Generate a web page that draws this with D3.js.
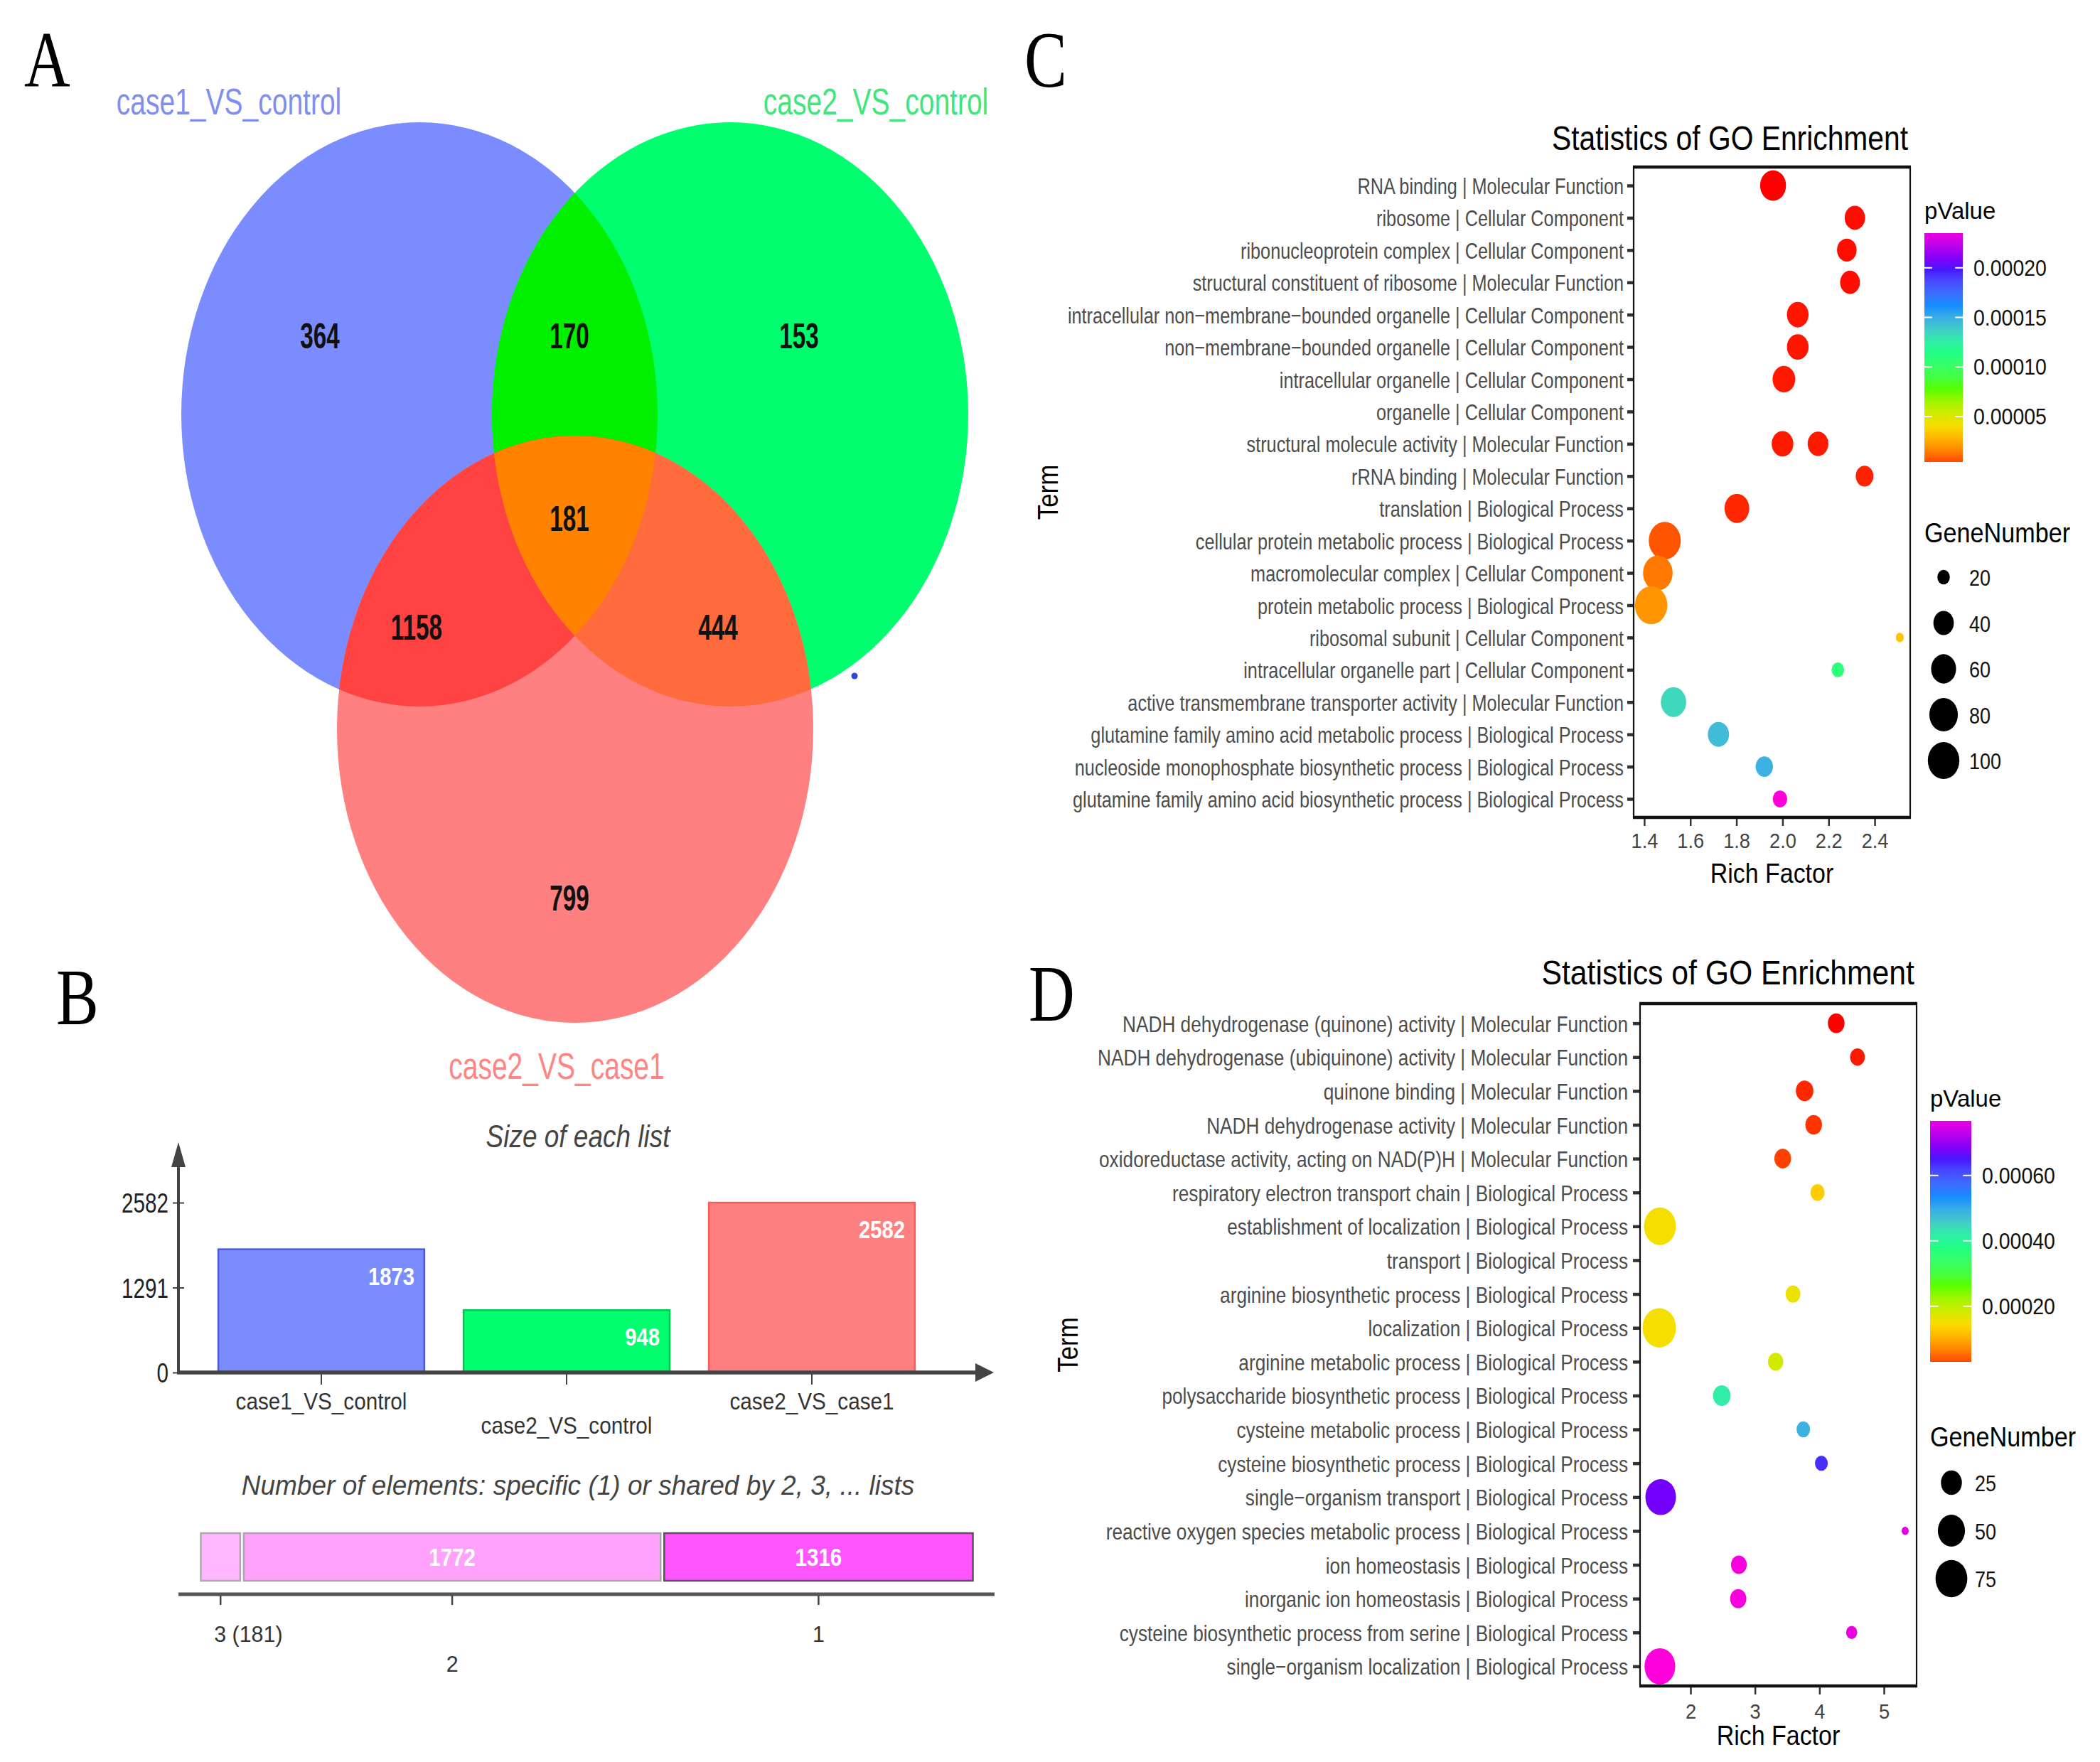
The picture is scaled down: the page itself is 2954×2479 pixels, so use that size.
<!DOCTYPE html>
<html><head><meta charset="utf-8">
<script src="https://cdn.jsdelivr.net/npm/d3@7"></script>
<style>body{margin:0;background:#fff} svg{display:block}</style>
</head><body>
<svg id="fig" width="2954" height="2479"></svg>
<script>
// ================= DATA =================
// Panel A – Venn
const vennSets = ["case1_VS_control", "case2_VS_control", "case2_VS_case1"];
const vennRegions = ["1", "1&2", "2", "1&2&3", "1&3", "2&3", "3"];
const vennCounts = [364, 170, 153, 181, 1158, 444, 799];

// Panel B – list sizes
const listNames = ["case1_VS_control", "case2_VS_control", "case2_VS_case1"];
const listSizes = [1873, 948, 2582];
const sizeTicks = [0, 1291, 2582];
const sharedLabels = ["3 (181)", "2", "1"];
const sharedCounts = [181, 1772, 1316];

// Panel C – GO enrichment
const termsC = [
  "RNA binding | Molecular Function",
  "ribosome | Cellular Component",
  "ribonucleoprotein complex | Cellular Component",
  "structural constituent of ribosome | Molecular Function",
  "intracellular non\u2212membrane\u2212bounded organelle | Cellular Component",
  "non\u2212membrane\u2212bounded organelle | Cellular Component",
  "intracellular organelle | Cellular Component",
  "organelle | Cellular Component",
  "structural molecule activity | Molecular Function",
  "rRNA binding | Molecular Function",
  "translation | Biological Process",
  "cellular protein metabolic process | Biological Process",
  "macromolecular complex | Cellular Component",
  "protein metabolic process | Biological Process",
  "ribosomal subunit | Cellular Component",
  "intracellular organelle part | Cellular Component",
  "active transmembrane transporter activity | Molecular Function",
  "glutamine family amino acid metabolic process | Biological Process",
  "nucleoside monophosphate biosynthetic process | Biological Process",
  "glutamine family amino acid biosynthetic process | Biological Process"
];
const ptTermC = [0, 1, 2, 3, 4, 5, 6, 8, 8, 9, 10, 11, 12, 13, 14, 15, 16, 17, 18, 19];
const richC  = [1.959, 2.314, 2.279, 2.293, 2.066, 2.066, 2.006, 2.000, 2.154, 2.356,
                1.802, 1.489, 1.459, 1.430, 2.509, 2.240, 1.527, 1.722, 1.921, 1.989];
const pC     = [4.1e-6, 4.5e-6, 4.5e-6, 4.5e-6, 4.8e-6, 4.8e-6, 5e-6, 5e-6, 5e-6, 5.5e-6,
                6e-6, 1.17e-5, 1.87e-5, 2.5e-5, 3.7e-5, 1.1e-4, 1.33e-4, 1.43e-4, 1.47e-4, 2.35e-4];
const genesC = [65, 40, 37, 38, 45, 45, 49, 45, 41, 31, 59, 103, 87, 106, 17, 20, 62, 43, 30, 23];
const xTicksC = [1.4, 1.6, 1.8, 2.0, 2.2, 2.4];
const pTicksC = [0.00005, 0.0001, 0.00015, 0.0002];
const sizeLegendC = [20, 40, 60, 80, 100];

// Panel D – GO enrichment
const termsD = [
  "NADH dehydrogenase (quinone) activity | Molecular Function",
  "NADH dehydrogenase (ubiquinone) activity | Molecular Function",
  "quinone binding | Molecular Function",
  "NADH dehydrogenase activity | Molecular Function",
  "oxidoreductase activity, acting on NAD(P)H | Molecular Function",
  "respiratory electron transport chain | Biological Process",
  "establishment of localization | Biological Process",
  "transport | Biological Process",
  "arginine biosynthetic process | Biological Process",
  "localization | Biological Process",
  "arginine metabolic process | Biological Process",
  "polysaccharide biosynthetic process | Biological Process",
  "cysteine metabolic process | Biological Process",
  "cysteine biosynthetic process | Biological Process",
  "single\u2212organism transport | Biological Process",
  "reactive oxygen species metabolic process | Biological Process",
  "ion homeostasis | Biological Process",
  "inorganic ion homeostasis | Biological Process",
  "cysteine biosynthetic process from serine | Biological Process",
  "single\u2212organism localization | Biological Process"
];
const ptTermD = [0, 1, 2, 3, 4, 5, 6, 8, 9, 10, 11, 12, 13, 14, 15, 16, 17, 18, 19];
const richD  = [4.26, 4.59, 3.77, 3.91, 3.43, 3.97, 1.526, 3.59, 1.515, 3.32,
                2.485, 3.75, 4.03, 1.537, 5.33, 2.75, 2.74, 4.50, 1.525];
const pD     = [3.0e-5, 3.3e-5, 3.6e-5, 4.0e-5, 4.5e-5, 1.40e-4, 1.63e-4, 1.72e-4, 1.63e-4, 1.95e-4,
                4.17e-4, 4.85e-4, 6.25e-4, 6.62e-4, 7.43e-4, 7.6e-4, 7.6e-4, 7.48e-4, 7.67e-4];
const genesD = [13, 9, 15, 13, 13, 8, 76, 9, 85, 10, 15, 7, 6, 68, 2, 11, 12, 4, 69];
const xTicksD = [2, 3, 4, 5];
const pTicksD = [0.0002, 0.0004, 0.0006];
const sizeLegendD = [25, 50, 75];

const rainbow7 = ["#FF0000", "#FFDB00", "#49FF00", "#00FF92", "#0092FF", "#4900FF", "#FF00DB"];

// ================= HELPERS =================
const SANS = "'Liberation Sans', Arial, Helvetica, sans-serif";
const SERIF = "'Liberation Serif', 'Times New Roman', serif";
const svg = d3.select("#fig");
svg.append("rect").attr("width", 2954).attr("height", 2479).attr("fill", "#fff");
const defs = svg.append("defs");

function label(g, x, y, str, o = {}) {
  const t = g.append("text")
    .attr("transform", `translate(${x},${y})${o.rotate ? ` rotate(${o.rotate})` : ""} scale(${o.sx ?? 1},1)`)
    .attr("font-family", o.family || SANS)
    .attr("font-size", o.size || 30)
    .attr("text-anchor", o.anchor || "start")
    .attr("fill", o.fill || "#000")
    .text(str);
  if (o.weight) t.attr("font-weight", o.weight);
  if (o.style) t.attr("font-style", o.style);
  return t;
}

// Panel letters
const letters = svg.append("g");
[["A", 34, 122], ["B", 79, 1441], ["C", 1441, 122], ["D", 1447, 1436]].forEach(([s, x, y]) =>
  label(letters, x, y, s, {size: 112, family: SERIF, sx: 0.8}));

// ================= PANEL A: VENN =================
(function venn() {
  const g = svg.append("g");
  const E = [
    {cx: 590, cy: 583, rx: 335, ry: 411},
    {cx: 1027, cy: 583, rx: 335, ry: 411},
    {cx: 809, cy: 1026, rx: 335, ry: 413}
  ];
  const fills = ["#7b8cff", "#00ff6e", "#ff8080"];
  const over = {ab: "#00f000", ac: "#ff4343", bc: "#ff6b3d", abc: "#ff8200"};
  ["vA", "vB"].forEach((id, i) => {
    defs.append("clipPath").attr("id", id).append("ellipse")
      .attr("cx", E[i].cx).attr("cy", E[i].cy).attr("rx", E[i].rx).attr("ry", E[i].ry);
  });
  const ell = (sel, e, f) => sel.append("ellipse").attr("cx", e.cx).attr("cy", e.cy)
    .attr("rx", e.rx).attr("ry", e.ry).attr("fill", f);
  E.forEach((e, i) => ell(g, e, fills[i]));
  const gA = g.append("g").attr("clip-path", "url(#vA)");
  ell(gA, E[1], over.ab);
  ell(gA, E[2], over.ac);
  const gB = g.append("g").attr("clip-path", "url(#vB)");
  ell(gB, E[2], over.bc);
  const gAB = g.append("g").attr("clip-path", "url(#vA)").append("g").attr("clip-path", "url(#vB)");
  ell(gAB, E[2], over.abc);

  const pos = {"1": [450, 473], "1&2": [801, 473], "2": [1124, 473], "1&2&3": [801, 730],
               "1&3": [586, 883], "2&3": [1010, 883], "3": [801, 1264]};
  vennRegions.forEach((r, i) => label(g, pos[r][0], pos[r][1] + 17, vennCounts[i],
    {size: 49, weight: "bold", sx: 0.68, anchor: "middle", fill: "#111"}));

  const setPos = [[322, 161, "#7f8ff0"], [1232, 161, "#3ee67c"], [783, 1518, "#ff8585"]];
  vennSets.forEach((s, i) => label(g, setPos[i][0], setPos[i][1], s,
    {size: 52, sx: 0.75, anchor: "middle", fill: setPos[i][2]}));
  g.append("circle").attr("cx", 1202).attr("cy", 951).attr("r", 4.5).attr("fill", "#3344dd");
})();

// ================= PANEL B: bars =================
(function bars() {
  const g = svg.append("g");
  const axisCol = "#444";
  const x = d3.scaleBand().domain(listNames).range([279.5, 1314.5]).paddingInner(0.16).paddingOuter(0.08);
  const y = d3.scaleLinear().domain([0, 2582]).range([1931, 1692]);
  const barFill = ["#7b8cff", "#00ff6e", "#ff8080"];
  const barStroke = ["#4a5ae0", "#00c850", "#ff5a5a"];

  label(g, 813, 1614, "Size of each list", {size: 44, sx: 0.84, anchor: "middle", style: "italic", fill: "#444"});

  g.selectAll("rect.bar").data(listNames).join("rect").attr("class", "bar")
    .attr("x", d => x(d)).attr("width", x.bandwidth())
    .attr("y", (d, i) => y(listSizes[i])).attr("height", (d, i) => y(0) - y(listSizes[i]))
    .attr("fill", (d, i) => barFill[i]).attr("stroke", (d, i) => barStroke[i]).attr("stroke-width", 2.5);
  listNames.forEach((d, i) => label(g, x(d) + x.bandwidth() - 14, y(listSizes[i]) + 50, listSizes[i],
    {size: 36, weight: "bold", sx: 0.81, anchor: "end", fill: "#fff"}));

  const x0 = 251;
  g.append("line").attr("x1", x0).attr("x2", x0).attr("y1", y(0) + 2).attr("y2", 1635)
    .attr("stroke", axisCol).attr("stroke-width", 4);
  g.append("path").attr("d", `M${x0},1607 L${x0 - 10},1642 L${x0 + 10},1642 Z`).attr("fill", axisCol);
  g.append("line").attr("x1", x0 - 2).attr("x2", 1378).attr("y1", y(0)).attr("y2", y(0))
    .attr("stroke", axisCol).attr("stroke-width", 5.5);
  g.append("path").attr("d", `M1398,${y(0)} L1372,${y(0) - 13} L1372,${y(0) + 13} Z`).attr("fill", axisCol);

  const ya = g.append("g").attr("transform", `translate(${x0},0)`)
    .call(d3.axisLeft(y).tickValues(sizeTicks).tickFormat(d3.format("d")).tickSize(8).tickSizeOuter(0));
  ya.select(".domain").remove();
  ya.selectAll(".tick line").attr("x1", 8).attr("stroke", axisCol).attr("stroke-width", 2);
  ya.selectAll(".tick text").attr("x", null).attr("dy", "0.36em")
    .attr("transform", "translate(-14,0) scale(0.78,1)")
    .attr("font-size", 38).attr("font-family", SANS).attr("fill", "#222");
  ya.attr("font-size", null).attr("font-family", null);

  listNames.forEach((d, i) => {
    const cx = x(d) + x.bandwidth() / 2;
    g.append("line").attr("x1", cx).attr("x2", cx).attr("y1", y(0)).attr("y2", y(0) + 17)
      .attr("stroke", axisCol).attr("stroke-width", 2);
    label(g, cx, i % 2 ? 2017 : 1983, d, {size: 33, sx: 0.9, anchor: "middle", fill: "#333"});
  });

  label(g, 813, 2103, "Number of elements: specific (1) or shared by 2, 3, ... lists",
    {size: 39, sx: 0.95, anchor: "middle", style: "italic", fill: "#444"});
  const total = d3.sum(sharedCounts);
  const cum = [0, ...d3.cumsum(sharedCounts)];
  const xs = d3.scaleLinear().domain([0, total]).range([280, 1371]);
  const segFill = ["#ffb8ff", "#ffa2fb", "#ff55ff"];
  const segStroke = ["#aaaaaa", "#a8a8a8", "#555555"];
  sharedCounts.forEach((c, i) => {
    const a = xs(cum[i]), b = xs(cum[i + 1]);
    g.append("rect").attr("x", a + 2.5).attr("width", b - a - 5).attr("y", 2157).attr("height", 67)
      .attr("fill", segFill[i]).attr("stroke", segStroke[i]).attr("stroke-width", 2.5);
    if (b - a > 100) label(g, (a + b) / 2, 2203, c, {size: 36, weight: "bold", sx: 0.82, anchor: "middle", fill: "#fff"});
    const cx = (a + b) / 2;
    g.append("line").attr("x1", cx).attr("x2", cx).attr("y1", 2243).attr("y2", 2258)
      .attr("stroke", axisCol).attr("stroke-width", 2.5);
    const first = i === 0;
    label(g, first ? cx - 9 : cx, i % 2 ? 2352 : 2310, sharedLabels[i],
      {size: 32, sx: 0.95, anchor: first ? "start" : "middle", fill: "#333"});
  });
  g.append("line").attr("x1", 251).attr("x2", 1399).attr("y1", 2243).attr("y2", 2243)
    .attr("stroke", "#555").attr("stroke-width", 5);
})();

// ================= PANELS C & D: GO dot plots =================
function goPanel(o) {
  const g = svg.append("g");
  const x = d3.scaleLinear().domain(o.xDomain).range([o.box.l, o.box.r]);
  const y = d3.scalePoint().domain(o.terms).range([o.box.t, o.box.b]).padding(o.pad);
  const [gLo, gHi] = d3.extent(o.genes);
  const rs = d3.scaleSqrt().domain([0, gHi - gLo]).range(o.rRange);
  const r = v => rs(v - gLo);
  const [pLo, pHi] = d3.extent(o.p);
  const col = d3.scaleLinear()
    .domain(rainbow7.map((c, i) => pLo + i * (pHi - pLo) / (rainbow7.length - 1)))
    .range(rainbow7).interpolate(d3.interpolateLab);

  label(g, o.box.r - 3, o.titleY, "Statistics of GO Enrichment", {size: 48, sx: o.titleSx, anchor: "end"});

  const ya = g.append("g").attr("transform", `translate(${o.box.l - 1},0)`)
    .call(d3.axisLeft(y).tickSize(o.yTick).tickSizeOuter(0));
  ya.select(".domain").remove();
  ya.selectAll(".tick line").attr("stroke", "#333").attr("stroke-width", 4.5);
  ya.selectAll(".tick text").attr("x", null).attr("dy", "0.36em")
    .attr("transform", `translate(${-o.yLab},0) scale(${o.ySx},1)`)
    .attr("font-size", 32).attr("font-family", SANS).attr("fill", "#4d4d4d");
  ya.attr("font-size", null).attr("font-family", null);

  const xa = g.append("g").attr("transform", `translate(0,${o.box.b + 1})`)
    .call(d3.axisBottom(x).tickValues(o.xTicks).tickFormat(o.xFmt).tickSize(11).tickSizeOuter(0));
  xa.select(".domain").remove();
  xa.selectAll(".tick line").attr("stroke", "#333").attr("stroke-width", 2.5);
  xa.selectAll(".tick text").attr("y", null).attr("dy", null)
    .attr("transform", `translate(0,${o.xLabY - o.box.b}) scale(0.94,1)`)
    .attr("font-size", 29).attr("font-family", SANS).attr("fill", "#444");
  xa.attr("font-size", null).attr("font-family", null);

  const pts = o.ptTerm.map((t, i) => ({term: o.terms[t], rich: o.rich[i], p: o.p[i], n: o.genes[i]}));
  g.selectAll("ellipse.pt").data(pts).join("ellipse").attr("class", "pt")
    .attr("cx", d => x(d.rich)).attr("cy", d => y(d.term))
    .attr("rx", d => r(d.n) * 0.85).attr("ry", d => r(d.n))
    .attr("fill", d => col(d.p));

  g.append("rect").attr("x", o.box.l).attr("y", o.box.t)
    .attr("width", o.box.r - o.box.l).attr("height", o.box.b - o.box.t)
    .attr("fill", "none").attr("stroke", "#111").attr("stroke-width", 2.2);
  [o.box.t, o.box.b].forEach(yy => g.append("line").attr("x1", o.box.l - 1).attr("x2", o.box.r + 1)
    .attr("y1", yy).attr("y2", yy).attr("stroke", "#111").attr("stroke-width", 4.5));

  label(g, (o.box.l + o.box.r) / 2, o.richY, "Rich Factor", {size: 39, sx: 0.87, anchor: "middle"});
  label(g, o.termX, (o.box.t + o.box.b) / 2, "Term", {size: 40, sx: 0.87, anchor: "middle", rotate: -90});

  const L = o.leg;
  label(g, L.x, L.pTitleY, "pValue", {size: 34, sx: 0.97});
  const gid = "grad" + o.id;
  const grad = defs.append("linearGradient").attr("id", gid)
    .attr("x1", 0).attr("y1", 1).attr("x2", 0).attr("y2", 0);
  const nbin = 20;
  d3.range(nbin).forEach(i => grad.append("stop").attr("offset", i / (nbin - 1))
    .attr("stop-color", col(pLo + (i + 0.5) / nbin * (pHi - pLo))));
  g.append("rect").attr("x", L.x).attr("y", L.barTop).attr("width", L.barW)
    .attr("height", L.barBottom - L.barTop).attr("fill", `url(#${gid})`);
  const yb = d3.scaleLinear().domain([pLo, pHi]).range([L.barBottom, L.barTop]);
  o.pTicks.forEach(t => {
    const yy = yb(t);
    [[L.x, L.x + L.barW / 5], [L.x + L.barW * 4 / 5, L.x + L.barW]].forEach(([a, b]) =>
      g.append("line").attr("x1", a).attr("x2", b).attr("y1", yy).attr("y2", yy)
        .attr("stroke", "#fff").attr("stroke-width", 2));
    label(g, L.x + L.barW + 15, yy + 11, d3.format(".5f")(t), {size: 32, sx: 0.89, fill: "#111"});
  });

  label(g, L.x, L.gTitleY, "GeneNumber", {size: 38, sx: 0.9});
  o.sizeLegend.forEach((v, i) => {
    const yy = L.sY0 + i * L.sStep;
    g.append("ellipse").attr("cx", L.sX).attr("cy", yy).attr("rx", r(v) * 0.85).attr("ry", r(v)).attr("fill", "#000");
    label(g, L.sLabX, yy + 12, v, {size: 31, sx: 0.87, fill: "#111"});
  });
}

goPanel({
  id: "C", terms: termsC, ptTerm: ptTermC, rich: richC, p: pC, genes: genesC,
  box: {l: 2298, r: 2687, t: 235, b: 1150}, pad: 0.572,
  xDomain: [1.354, 2.554], xTicks: xTicksC, xFmt: d3.format(".1f"),
  rRange: [6.65, 26.8], titleY: 211, titleSx: 0.85,
  yTick: 8, yLab: 13, ySx: 0.79, xLabY: 1192, richY: 1242, termX: 1488,
  pTicks: pTicksC, sizeLegend: sizeLegendC,
  leg: {x: 2707, pTitleY: 308, barTop: 328, barBottom: 650, barW: 54,
        gTitleY: 763, sX: 2734, sY0: 812, sStep: 64.5, sLabX: 2770}
});

goPanel({
  id: "D", terms: termsD, ptTerm: ptTermD, rich: richD, p: pD, genes: genesD,
  box: {l: 2307, r: 2696, t: 1412, b: 2372}, pad: 0.58,
  xDomain: [1.217, 5.507], xTicks: xTicksD, xFmt: d3.format("d"),
  rRange: [5.85, 27.7], titleY: 1385, titleSx: 0.89,
  yTick: 9, yLab: 16, ySx: 0.82, xLabY: 2417, richY: 2455, termX: 1516,
  pTicks: pTicksD, sizeLegend: sizeLegendD,
  leg: {x: 2715, pTitleY: 1557, barTop: 1577, barBottom: 1916, barW: 58,
        gTitleY: 2035, sX: 2745, sY0: 2086, sStep: 67.5, sLabX: 2778}
});
</script>
</body></html>
